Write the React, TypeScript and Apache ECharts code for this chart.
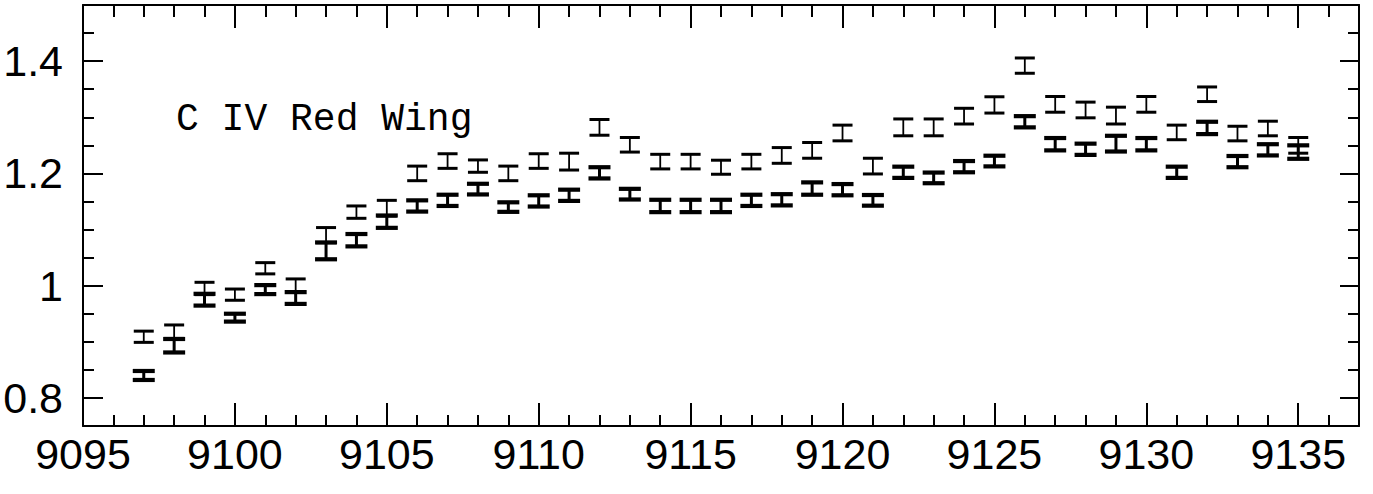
import React, { useEffect, useRef } from 'react';
import * as echarts from 'echarts';

// Wavelength bins (x)
const wavelengths = [
  9097, 9098, 9099, 9100, 9101, 9102, 9103, 9104, 9105, 9106,
  9107, 9108, 9109, 9110, 9111, 9112, 9113, 9114, 9115, 9116,
  9117, 9118, 9119, 9120, 9121, 9122, 9123, 9124, 9125, 9126,
  9127, 9128, 9129, 9130, 9131, 9132, 9133, 9134, 9135,
];

// Upper series (thin error bars)
const upperValues = [
  0.909, 0.918, 0.995, 0.984, 1.031, 1.000, 1.090, 1.131, 1.138, 1.200,
  1.222, 1.213, 1.200, 1.222, 1.221, 1.282, 1.251, 1.221, 1.221, 1.211,
  1.221, 1.232, 1.241, 1.272, 1.213, 1.282, 1.282, 1.302, 1.322, 1.392,
  1.323, 1.313, 1.303, 1.323, 1.273, 1.341, 1.271, 1.280, 1.250,
];
const upperErrors = [
  0.010, 0.012, 0.011, 0.010, 0.010, 0.012, 0.0135, 0.011, 0.014, 0.013,
  0.013, 0.011, 0.013, 0.013, 0.015, 0.014, 0.013, 0.013, 0.013, 0.0125,
  0.013, 0.014, 0.014, 0.014, 0.014, 0.015, 0.015, 0.014, 0.0145, 0.0136,
  0.014, 0.014, 0.015, 0.014, 0.013, 0.013, 0.013, 0.013, 0.014,
];

// Lower series (bold error bars)
const lowerValues = [
  0.840, 0.893, 0.975, 0.943, 0.993, 0.978, 1.062, 1.081, 1.114, 1.142,
  1.152, 1.172, 1.140, 1.151, 1.161, 1.201, 1.163, 1.142, 1.142, 1.142,
  1.152, 1.153, 1.173, 1.171, 1.152, 1.202, 1.192, 1.212, 1.222, 1.292,
  1.252, 1.243, 1.253, 1.252, 1.202, 1.281, 1.221, 1.242, 1.238,
];
const lowerErrors = [
  0.008, 0.012, 0.0105, 0.007, 0.008, 0.0105, 0.015, 0.011, 0.011, 0.010,
  0.010, 0.0095, 0.0085, 0.010, 0.010, 0.010, 0.0095, 0.011, 0.011, 0.011,
  0.010, 0.010, 0.011, 0.010, 0.0095, 0.010, 0.0095, 0.010, 0.0095, 0.010,
  0.011, 0.010, 0.014, 0.011, 0.010, 0.011, 0.010, 0.010, 0.012,
];

// Axis ranges and ticks
const xMin = 9095;
const xMax = 9137;
const xMajorStep = 5;
const xMinorStep = 1;
const yMin = 0.75;
const yMax = 1.5;
const yMajorTicks = [0.8, 1.0, 1.2, 1.4];
const yMinorStep = 0.05;
const annotation = 'C IV Red Wing';

const BLACK = '#000';

function makeErrorBarRenderer(stemWidth: number, capWidth: number, halfCap: number) {
  return (params: any, api: any) => {
    const x = api.value(0);
    const v = api.value(1);
    const e = api.value(2);
    const top = api.coord([x, v + e]);
    const bot = api.coord([x, v - e]);
    return {
      type: 'group',
      children: [
        { type: 'line', shape: { x1: top[0], y1: top[1], x2: bot[0], y2: bot[1] }, style: { stroke: BLACK, lineWidth: stemWidth } },
        { type: 'line', shape: { x1: top[0] - halfCap, y1: top[1], x2: top[0] + halfCap, y2: top[1] }, style: { stroke: BLACK, lineWidth: capWidth } },
        { type: 'line', shape: { x1: bot[0] - halfCap, y1: bot[1], x2: bot[0] + halfCap, y2: bot[1] }, style: { stroke: BLACK, lineWidth: capWidth } },
      ],
    };
  };
}

export default function App() {
  const ref = useRef<HTMLDivElement>(null);

  useEffect(() => {
    if (!ref.current) return;
    const chart = echarts.init(ref.current, null, { renderer: 'svg' });

    const upperData = wavelengths.map((w, i) => [w, upperValues[i], upperErrors[i]]);
    const lowerData = wavelengths.map((w, i) => [w, lowerValues[i], lowerErrors[i]]);

    const yMinorTicks: number[] = [];
    for (let k = 0; ; k++) {
      const v = Math.round((yMin + k * yMinorStep) * 1000) / 1000;
      if (v > yMax + 1e-9) break;
      yMinorTicks.push(v);
    }

    const tickStyle = { color: BLACK, width: 2 };
    const font = 'Liberation Sans';

    const baseX = {
      type: 'value' as const,
      min: xMin,
      max: xMax,
      splitLine: { show: false },
      axisLine: { show: false },
      axisLabel: { show: false },
    };
    const baseY = {
      type: 'value' as const,
      min: yMin,
      max: yMax,
      splitLine: { show: false },
      axisLine: { show: false },
      axisLabel: { show: false },
    };

    chart.setOption({
      animation: false,
      backgroundColor: '#fff',
      grid: { left: 83, right: 14, top: 5, bottom: 68, containLabel: false },
      xAxis: [
        {
          ...baseX,
          position: 'bottom',
          interval: xMajorStep,
          axisLine: { show: true, onZero: false, lineStyle: { color: BLACK, width: 2 } },
          axisTick: { show: true, inside: true, length: 23, lineStyle: tickStyle },
          axisLabel: {
            show: true,
            color: BLACK,
            fontSize: 43,
            fontFamily: font,
            margin: 6,
            formatter: (v: number) => (Math.abs(v % xMajorStep) < 1e-9 ? String(v) : ''),
          },
        },
        {
          ...baseX,
          position: 'bottom',
          interval: xMinorStep,
          axisTick: { show: true, inside: true, length: 11, lineStyle: tickStyle },
        },
        {
          ...baseX,
          position: 'top',
          interval: xMajorStep,
          axisLine: { show: true, onZero: false, lineStyle: { color: BLACK, width: 2 } },
          axisTick: { show: true, inside: true, length: 23, lineStyle: tickStyle },
        },
        {
          ...baseX,
          position: 'top',
          interval: xMinorStep,
          axisTick: { show: true, inside: true, length: 12, lineStyle: tickStyle },
        },
      ],
      yAxis: [
        {
          ...baseY,
          position: 'left',
          axisLine: { show: true, onZero: false, lineStyle: { color: BLACK, width: 2 } },
          axisTick: { show: true, inside: true, length: 20, lineStyle: tickStyle, customValues: yMajorTicks },
          axisLabel: {
            show: true,
            color: BLACK,
            fontSize: 43,
            fontFamily: font,
            margin: 20,
            customValues: yMajorTicks,
            formatter: (v: number) => String(Math.round(v * 10) / 10),
          },
        },
        {
          ...baseY,
          position: 'left',
          axisTick: { show: true, inside: true, length: 11, lineStyle: tickStyle, customValues: yMinorTicks },
        },
        {
          ...baseY,
          position: 'right',
          axisLine: { show: true, onZero: false, lineStyle: { color: BLACK, width: 2 } },
          axisTick: { show: true, inside: true, length: 19, lineStyle: tickStyle, customValues: yMajorTicks },
        },
        {
          ...baseY,
          position: 'right',
          axisTick: { show: true, inside: true, length: 11, lineStyle: tickStyle, customValues: yMinorTicks },
        },
      ],
      graphic: [
        {
          type: 'text',
          left: 176,
          top: 100,
          style: {
            text: annotation,
            font: '38px "Liberation Mono"',
            fill: BLACK,
          },
        },
      ],
      series: [
        {
          type: 'custom',
          name: 'upper',
          xAxisIndex: 0,
          yAxisIndex: 0,
          data: upperData,
          encode: { x: 0, y: 1 },
          renderItem: makeErrorBarRenderer(1.8, 3, 10),
          z: 5,
        },
        {
          type: 'custom',
          name: 'lower',
          xAxisIndex: 0,
          yAxisIndex: 0,
          data: lowerData,
          encode: { x: 0, y: 1 },
          renderItem: makeErrorBarRenderer(3, 4.2, 11),
          z: 6,
        },
      ],
    });

    return () => chart.dispose();
  }, []);

  return (
    <div
      ref={ref}
      style={{ position: 'fixed', left: 0, top: 0, width: 1373, height: 494, background: '#fff' }}
    />
  );
}
